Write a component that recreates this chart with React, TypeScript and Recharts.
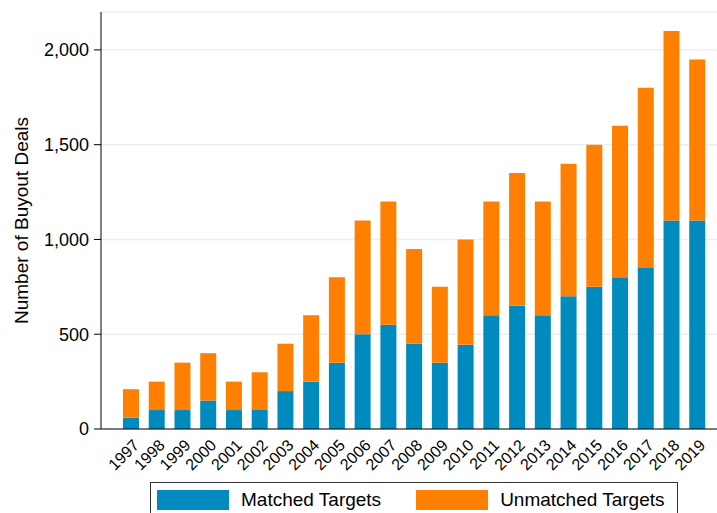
import { Bar, BarChart, CartesianGrid, Legend, XAxis, YAxis } from "recharts";

const YEARS = [
  "1997", "1998", "1999", "2000", "2001", "2002", "2003", "2004", "2005", "2006", "2007", "2008",
  "2009", "2010", "2011", "2012", "2013", "2014", "2015", "2016", "2017", "2018", "2019",
];
const MATCHED = [60, 100, 100, 150, 100, 100, 200, 250, 350, 500, 550, 450, 350, 445, 600, 650, 600, 700, 750, 800, 850, 1100, 1100];
const TOTAL = [210, 250, 350, 400, 250, 300, 450, 600, 800, 1100, 1200, 950, 750, 1000, 1200, 1350, 1200, 1400, 1500, 1600, 1800, 2100, 1950];
const Y_TICKS = [0, 500, 1000, 1500, 2000];

const BLUE = "#008BBF";
const ORANGE = "#FF7F00";
const FONT = '"Liberation Sans", Arial, Helvetica, sans-serif';

const data = YEARS.map((year, i) => ({
  year,
  matched: MATCHED[i],
  unmatched: TOTAL[i] - MATCHED[i],
}));

function YearTick({ x, y, payload }: any) {
  return (
    <g transform={`translate(${x},${y})`}>
      <text
        x={0}
        y={0}
        dy={13}
        textAnchor="end"
        fontSize={16}
        fontFamily={FONT}
        fill="#000"
        transform="rotate(-45)"
      >
        {payload.value}
      </text>
    </g>
  );
}

function LegendBox() {
  const item = (color: string, label: string, gap: number) => (
    <div style={{ display: "flex", alignItems: "center", marginRight: gap }}>
      <div style={{ width: 72, height: 20, background: color, marginRight: 12 }} />
      <span style={{ fontSize: 19, fontFamily: FONT, color: "#000" }}>{label}</span>
    </div>
  );
  return (
    <div style={{ position: "relative", height: 31 }}>
      <div
        style={{
          position: "absolute",
          top: 0,
          left: 0,
          right: 0,
          height: 40,
          border: "1px solid #333",
          boxSizing: "border-box",
          display: "flex",
          alignItems: "flex-start",
          paddingTop: 6,
          paddingLeft: 6,
        }}
      >
        {item(BLUE, "Matched Targets", 35)}
        {item(ORANGE, "Unmatched Targets", 0)}
      </div>
    </div>
  );
}

export default function App() {
  return (
    <div style={{ position: "absolute", left: 0, top: 0, background: "#fff" }}>
      <BarChart
        width={717}
        height={513}
        data={data}
        margin={{ top: 12, right: 0, bottom: 0, left: 0 }}
        barSize={16}
      >
        <CartesianGrid vertical={false} stroke="#E8EFF2" strokeWidth={1.5} />
        <XAxis
          dataKey="year"
          height={53}
          interval={0}
          tickLine={false}
          axisLine={{ stroke: "#000" }}
          padding={{ left: 17, right: 7 }}
          tick={<YearTick />}
        />
        <YAxis
          width={101}
          domain={[0, 2200]}
          ticks={Y_TICKS}
          tickSize={7}
          tickMargin={5}
          axisLine={{ stroke: "#000" }}
          tickLine={{ stroke: "#000" }}
          tick={{ fill: "#000", fontSize: 18, fontFamily: FONT }}
          tickFormatter={(v: number) => v.toLocaleString("en-US")}
          label={{
            value: "Number of Buyout Deals",
            angle: -90,
            position: "insideLeft",
            offset: 21,
            style: { textAnchor: "middle", fontSize: 19, fontFamily: FONT, fill: "#000" },
          }}
        />
        <Legend
          verticalAlign="bottom"
          content={<LegendBox />}
          wrapperStyle={{ left: 150, width: 528, bottom: 0 }}
        />
        <Bar dataKey="matched" stackId="a" fill={BLUE} isAnimationActive={false} />
        <Bar dataKey="unmatched" stackId="a" fill={ORANGE} isAnimationActive={false} />
      </BarChart>
    </div>
  );
}
